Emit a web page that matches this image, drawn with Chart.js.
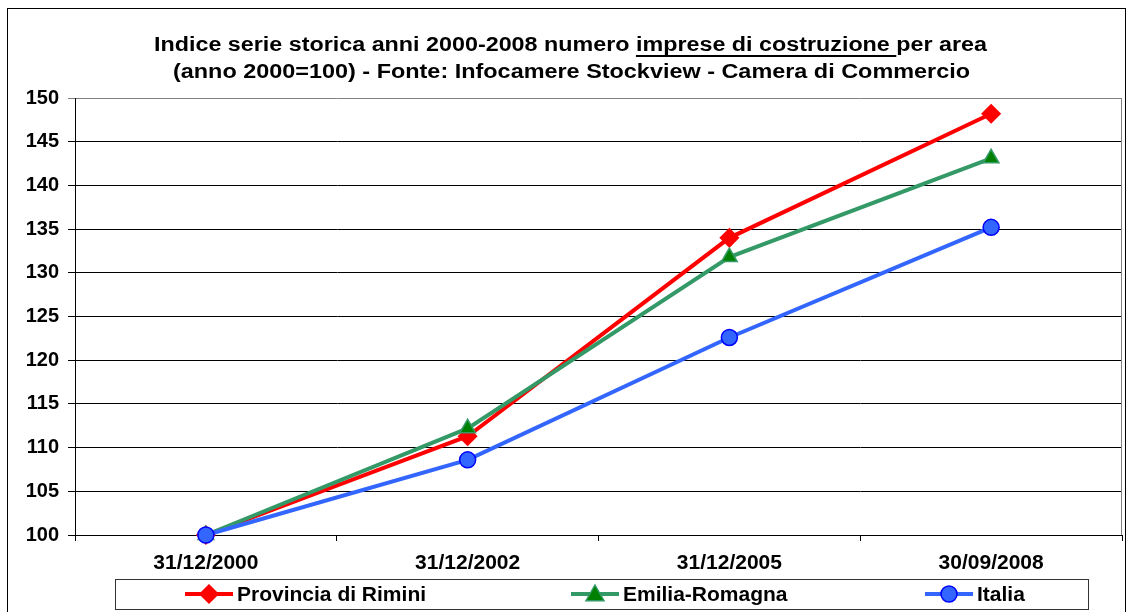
<!DOCTYPE html>
<html>
<head>
<meta charset="utf-8">
<script src="https://cdn.jsdelivr.net/npm/chart.js@4/dist/chart.umd.min.js"></script>
<style>
  html, body { margin: 0; padding: 0; background: #fff; }
  #wrap { position: relative; width: 1127px; height: 612px; }
  canvas { display: block; }
</style>
</head>
<body>
<div id="wrap"><canvas id="c" width="1127" height="612"></canvas></div>
<script>
const titleLine1Before = "Indice serie storica anni 2000-2008 numero ";
const titleLine1Under = "imprese di costruzione ";
const titleLine1After = "per area";
const titleLine2 = "(anno 2000=100) - Fonte: Infocamere Stockview - Camera di Commercio";

const categories = ["31/12/2000", "31/12/2002", "31/12/2005", "30/09/2008"];
const seriesNames = ["Provincia di Rimini", "Emilia-Romagna", "Italia"];
const rimini = [100, 111.3, 134.0, 148.2];
const emilia = [100, 112.2, 131.8, 143.1];
const italia = [100, 108.6, 122.6, 135.2];
const yMin = 100, yMax = 150, yStep = 5;

const FONT = '"Liberation Sans", Arial, sans-serif';

const styles = [
  { line: '#FF0000', fill: '#FF0000', border: '#FF0000', point: 'rectRot', r: 9, order: 3 },
  { line: '#339966', fill: '#008000', border: '#339966', point: 'triangle', r: 9, order: 2 },
  { line: '#3366FF', fill: '#3366FF', border: '#0000FF', point: 'circle', r: 8, order: 1 }
];
const seriesData = [rimini, emilia, italia];

function drawMarker(ctx, type, x, y, r, fill, border) {
  ctx.save();
  ctx.fillStyle = fill; ctx.strokeStyle = border; ctx.lineWidth = 1.5;
  ctx.beginPath();
  if (type === 'rectRot') {
    ctx.moveTo(x, y - r); ctx.lineTo(x + r, y); ctx.lineTo(x, y + r); ctx.lineTo(x - r, y); ctx.closePath();
  } else if (type === 'triangle') {
    ctx.moveTo(x, y - r); ctx.lineTo(x + r, y + r * 0.75); ctx.lineTo(x - r, y + r * 0.75); ctx.closePath();
  } else {
    ctx.arc(x, y, r, 0, Math.PI * 2);
  }
  ctx.fill(); ctx.stroke();
  ctx.restore();
}

// draws text stretched horizontally so that it spans targetWidth
function stretchedText(ctx, parts, cx, y, targetWidth, underlineIdx) {
  const widths = parts.map(p => ctx.measureText(p).width);
  const tot = widths.reduce((a, b) => a + b, 0);
  const k = targetWidth / tot;
  ctx.save();
  ctx.translate(cx - targetWidth / 2, y);
  ctx.scale(k, 1);
  let x = 0;
  parts.forEach((p, i) => {
    ctx.fillText(p, x, 0);
    if (i === underlineIdx) ctx.fillRect(x, 4, widths[i], 2);
    x += widths[i];
  });
  ctx.restore();
}

const decor = {
  id: 'decor',
  beforeDraw(chart) {
    const ctx = chart.ctx;
    ctx.save();
    ctx.fillStyle = '#fff';
    ctx.fillRect(0, 0, chart.width, chart.height);
    ctx.strokeStyle = '#000'; ctx.lineWidth = 1;
    ctx.strokeRect(7.5, 8.5, 1118, 640);
    ctx.restore();
  },
  afterDraw(chart) {
    const ctx = chart.ctx;
    const a = chart.chartArea;
    ctx.save();
    ctx.strokeStyle = '#808080'; ctx.lineWidth = 1;
    ctx.beginPath(); ctx.moveTo(a.right - 0.5, a.top); ctx.lineTo(a.right - 0.5, a.bottom); ctx.stroke();
    // title
    ctx.fillStyle = '#000';
    ctx.font = 'bold 20px ' + FONT;
    ctx.textBaseline = 'alphabetic';
    ctx.textAlign = 'left';
    stretchedText(ctx, [titleLine1Before, titleLine1Under, titleLine1After], 570.5, 51, 833, 1);
    stretchedText(ctx, [titleLine2], 571.5, 78, 797, -1);
    // legend
    ctx.strokeStyle = '#333'; ctx.lineWidth = 1;
    ctx.strokeRect(115.5, 579.5, 973, 30);
    const itemX = [185, 571, 925];
    const ly = 594;
    ctx.font = 'bold 21px ' + FONT;
    ctx.textAlign = 'left';
    ctx.textBaseline = 'middle';
    for (let i = 0; i < 3; i++) {
      const s = styles[i];
      ctx.strokeStyle = s.line; ctx.lineWidth = 4;
      ctx.beginPath(); ctx.moveTo(itemX[i], ly); ctx.lineTo(itemX[i] + 48, ly); ctx.stroke();
      drawMarker(ctx, s.point, itemX[i] + 24, ly, s.r, s.fill, s.border);
      ctx.fillStyle = '#000';
      ctx.fillText(seriesNames[i], itemX[i] + 52, ly + 1);
    }
    ctx.restore();
  }
};

new Chart(document.getElementById('c'), {
  type: 'line',
  data: {
    labels: categories,
    datasets: seriesNames.map((n, i) => ({
      label: n,
      data: seriesData[i],
      borderColor: styles[i].line,
      backgroundColor: styles[i].fill,
      pointBackgroundColor: styles[i].fill,
      pointBorderColor: styles[i].border,
      pointBorderWidth: 1.5,
      pointStyle: styles[i].point,
      pointRadius: styles[i].r,
      pointHoverRadius: styles[i].r,
      borderWidth: 4,
      tension: 0,
      order: styles[i].order,
      clip: false
    }))
  },
  options: {
    responsive: false,
    animation: false,
    events: [],
    layout: { autoPadding: false, padding: { left: 0, right: 5, top: 98, bottom: 0 } },
    plugins: { legend: { display: false }, title: { display: false }, tooltip: { enabled: false } },
    scales: {
      x: {
        offset: true,
        afterFit(s) { s.height = 77; s.paddingLeft = 0; s.paddingRight = 0; },
        grid: { offset: true, drawOnChartArea: false, drawTicks: true, tickLength: 6, color: '#000', lineWidth: 1 },
        border: { color: '#000', width: 1 },
        ticks: { color: '#000', font: { family: FONT, size: 21, weight: 'bold' }, padding: 10, maxRotation: 0 }
      },
      y: {
        min: yMin, max: yMax,
        afterFit(s) { s.width = 75; },
        grid: {
          color: (c) => (c.tick && c.tick.value === yMax) ? '#808080' : '#000',
          lineWidth: 1, tickLength: 7, drawTicks: true
        },
        border: { color: '#000', width: 1 },
        ticks: { stepSize: yStep, color: '#000', font: { family: FONT, size: 20, weight: 'bold' }, padding: 9 }
      }
    }
  },
  plugins: [decor]
});
</script>
</body>
</html>
